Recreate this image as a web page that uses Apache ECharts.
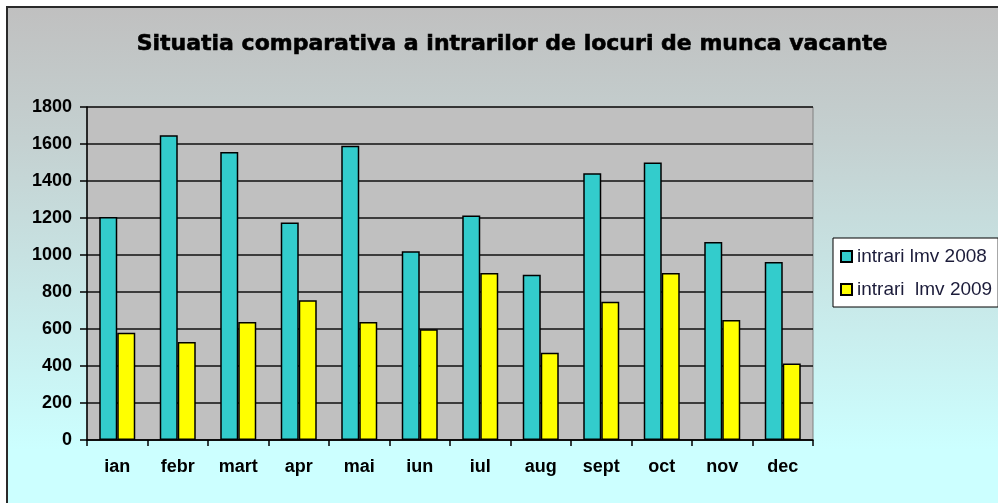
<!DOCTYPE html>
<html>
<head>
<meta charset="utf-8">
<script src="https://cdn.jsdelivr.net/npm/echarts@6/dist/echarts.min.js"></script>
<style>
  html, body { margin: 0; padding: 0; background: #ffffff; overflow: hidden; }
  #bg { position: absolute; left: 6px; top: 6px; width: 1010px; height: 520px;
        border-left: 2px solid #2a2a2a; border-top: 2px solid #2a2a2a;
        background: linear-gradient(to bottom, #c0c0c0 0%, #c4d0d0 25%, #ccffff 85%, #ccffff 100%); }
  #chart { position: absolute; left: 0; top: 0; width: 998px; height: 503px; }
</style>
</head>
<body>
<div id="bg"></div>
<div id="chart"></div>
<script>
const titleText = 'Situatia comparativa a intrarilor de locuri de munca vacante';
const categories = ['ian', 'febr', 'mart', 'apr', 'mai', 'iun', 'iul', 'aug', 'sept', 'oct', 'nov', 'dec'];
const seriesNames = ['intrari lmv 2008', 'intrari  lmv 2009'];
const values2008 = [1205, 1647, 1557, 1176, 1591, 1020, 1214, 893, 1442, 1500, 1070, 962];
const values2009 = [580, 530, 638, 755, 638, 598, 903, 472, 747, 903, 649, 413];
const yTicks = { min: 0, max: 1800, interval: 200 };

const chart = echarts.init(document.getElementById('chart'), null, { renderer: 'canvas' });
const axisFont = { fontFamily: '"Liberation Sans", Arial, sans-serif', fontWeight: 'bold', fontSize: 18, color: '#000' };

chart.setOption({
  backgroundColor: 'transparent',
  animation: false,
  title: {
    text: titleText,
    left: 507,
    top: 28,
    textAlign: 'center',
    textStyle: {
      fontFamily: '"DejaVu Sans", sans-serif',
      fontWeight: 'bold',
      fontSize: 22,
      color: '#000',
      textBorderColor: '#000',
      textBorderWidth: 0.6
    }
  },
  legend: {
    orient: 'vertical',
    left: 833,
    top: 238,
    padding: [9, 6, 8, 7],
    itemGap: 14,
    itemWidth: 11,
    itemHeight: 11,
    icon: 'rect',
    backgroundColor: '#ffffff',
    borderColor: '#000',
    borderWidth: 1,
    borderRadius: 0,
    textStyle: { fontFamily: '"Liberation Sans", Arial, sans-serif', fontSize: 19, color: '#1c1c3a' },
    data: seriesNames
  },
  grid: {
    left: 87, right: 185, top: 107, bottom: 63,
    show: true,
    backgroundColor: '#c0c0c0',
    borderColor: '#808080',
    borderWidth: 1
  },
  xAxis: {
    type: 'category',
    data: categories,
    axisLine: { show: true, lineStyle: { color: '#000', width: 1.5 } },
    axisTick: { show: true, length: 6, lineStyle: { color: '#000', width: 1.5 } },
    axisLabel: Object.assign({ margin: 18 }, axisFont),
    splitLine: { show: false }
  },
  yAxis: {
    type: 'value',
    min: yTicks.min,
    max: yTicks.max,
    interval: yTicks.interval,
    axisLine: { show: true, lineStyle: { color: '#000', width: 1.5 } },
    axisTick: { show: true, length: 7, lineStyle: { color: '#000', width: 1.5 } },
    axisLabel: Object.assign({ margin: 15, formatter: function (v) { return String(v); } }, axisFont),
    splitLine: { show: true, lineStyle: { color: '#111', width: 1.5 } }
  },
  series: [
    {
      name: seriesNames[0],
      type: 'bar',
      data: values2008,
      barWidth: 18,
      barGap: '0%',
      itemStyle: { color: '#33cccc', borderColor: '#000', borderWidth: 1.5 }
    },
    {
      name: seriesNames[1],
      type: 'bar',
      data: values2009,
      barWidth: 18,
      barGap: '0%',
      itemStyle: { color: '#ffff00', borderColor: '#000', borderWidth: 1.5 }
    }
  ]
});
</script>
</body>
</html>
